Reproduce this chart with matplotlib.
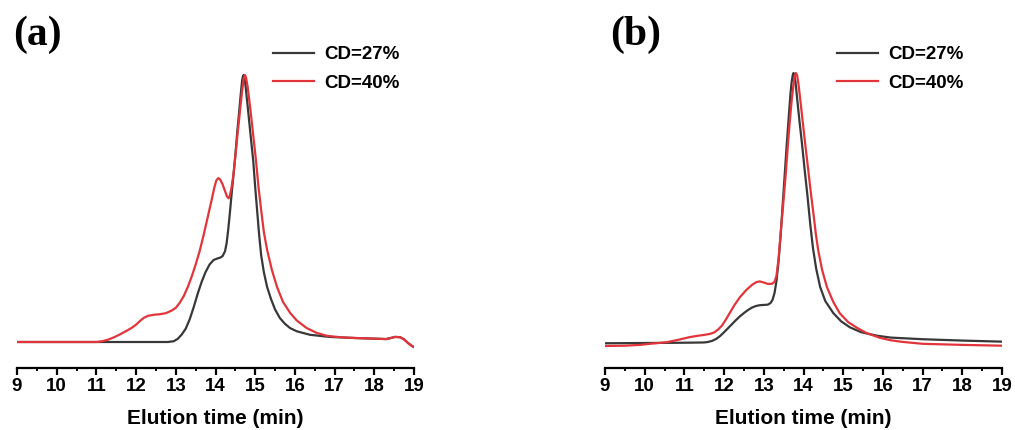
import matplotlib
matplotlib.use("Agg")
import matplotlib.pyplot as plt
from matplotlib.ticker import MultipleLocator

# ---------------- data ----------------
labels = ["CD=27%", "CD=40%"]

# panel (a)
a27_t = [9.0, 12.8, 12.95, 13.05, 13.15, 13.25, 13.35, 13.45, 13.55, 13.65, 13.75, 13.85,
         13.95, 14.05, 14.12, 14.18, 14.24, 14.28, 14.32, 14.36, 14.40, 14.45, 14.50, 14.55,
         14.60, 14.64, 14.67, 14.69, 14.71, 14.73, 14.76, 14.82, 14.88, 14.95, 15.0, 15.05,
         15.10, 15.15, 15.22, 15.30, 15.40, 15.50, 15.62, 15.75, 15.88, 16.05, 16.38, 16.88,
         17.5, 18.3, 18.42, 18.52, 18.65, 18.75, 18.85, 18.95, 19.0]
a27_v = [0.0, 0.0, 0.003, 0.012, 0.028, 0.05, 0.085, 0.13, 0.18, 0.225, 0.262, 0.29,
         0.307, 0.313, 0.316, 0.322, 0.34, 0.37, 0.42, 0.48, 0.545, 0.62, 0.70, 0.79,
         0.869, 0.935, 0.978, 0.995, 1.0, 0.99, 0.955, 0.869, 0.78, 0.68, 0.58, 0.49,
         0.40, 0.325, 0.26, 0.206, 0.16, 0.122, 0.09, 0.068, 0.052, 0.04, 0.027, 0.019,
         0.015, 0.011, 0.015, 0.019, 0.018, 0.01, -0.004, -0.015, -0.019]

a40_t = [9.0, 11.0, 11.15, 11.3, 11.45, 11.6, 11.75, 11.9, 12.0, 12.1, 12.2, 12.3, 12.45,
         12.6, 12.75, 12.9, 13.0, 13.1, 13.2, 13.3, 13.4, 13.5, 13.6, 13.7, 13.8, 13.9,
         13.97, 14.02, 14.07, 14.12, 14.18, 14.24, 14.29, 14.33, 14.36, 14.40, 14.45, 14.50,
         14.56, 14.62, 14.67, 14.71, 14.74, 14.77, 14.81, 14.88, 14.95, 15.02, 15.08, 15.15,
         15.22, 15.30, 15.42, 15.55, 15.70, 15.88, 16.05, 16.30, 16.55, 16.81, 17.2, 17.5,
         18.3, 18.42, 18.52, 18.65, 18.75, 18.85, 18.95, 19.0]
a40_v = [0.0, 0.0, 0.003, 0.009, 0.018, 0.029, 0.041, 0.054, 0.065, 0.079, 0.091, 0.098, 0.102,
         0.104, 0.108, 0.118, 0.128, 0.147, 0.172, 0.205, 0.245, 0.29, 0.34, 0.40, 0.465, 0.53,
         0.578, 0.605, 0.614, 0.608, 0.59, 0.565, 0.545, 0.538, 0.548, 0.575, 0.625, 0.695,
         0.785, 0.87, 0.94, 0.985, 1.0, 0.99, 0.955, 0.87, 0.775, 0.68, 0.585, 0.494,
         0.41, 0.345, 0.27, 0.206, 0.15, 0.109, 0.08, 0.052, 0.034, 0.023, 0.017, 0.015,
         0.011, 0.015, 0.019, 0.018, 0.01, -0.004, -0.015, -0.019]

# panel (b)
b27_t = [9.0, 10.0, 11.0, 11.5, 11.6, 11.7, 11.8, 11.9, 12.0, 12.1, 12.2, 12.3, 12.4, 12.5,
         12.6, 12.7, 12.8, 12.9, 13.0, 13.1, 13.17, 13.22, 13.27, 13.32, 13.37, 13.42, 13.47,
         13.53, 13.58, 13.63, 13.67, 13.70, 13.73, 13.75, 13.77, 13.80, 13.84, 13.90, 13.96,
         14.03, 14.10, 14.17, 14.24, 14.32, 14.42, 14.55, 14.75, 14.95, 15.17, 15.45, 15.85,
         16.2, 17.0, 18.0, 19.0]
b27_v = [-0.001, 0.0, 0.001, 0.002, 0.004, 0.008, 0.015, 0.026, 0.04, 0.055, 0.07, 0.085,
         0.099, 0.111, 0.122, 0.131, 0.137, 0.14, 0.141, 0.142, 0.148, 0.16, 0.185, 0.23,
         0.30, 0.39, 0.50, 0.63, 0.74, 0.84, 0.92, 0.965, 0.993, 1.0, 0.993, 0.965, 0.905,
         0.82, 0.741, 0.64, 0.545, 0.44, 0.35, 0.275, 0.207, 0.155, 0.111, 0.08, 0.058,
         0.04, 0.027, 0.02, 0.014, 0.009, 0.005]

b40_t = [9.0, 9.5, 9.88, 10.2, 10.56, 10.85, 11.14, 11.35, 11.5, 11.65, 11.75, 11.85, 11.95,
         12.05, 12.15, 12.25, 12.4, 12.55, 12.7, 12.82, 12.9, 13.0, 13.1, 13.2, 13.27, 13.32,
         13.37, 13.42, 13.48, 13.55, 13.61, 13.66, 13.71, 13.75, 13.78, 13.81, 13.84, 13.87,
         13.92, 13.98, 14.04, 14.12, 14.19, 14.25, 14.31, 14.37, 14.47, 14.59, 14.75, 14.91,
         15.12, 15.35, 15.6, 15.93, 16.2, 16.5, 17.0, 18.0, 19.0]
b40_v = [-0.011, -0.01, -0.007, -0.002, 0.003, 0.012, 0.022, 0.027, 0.030, 0.034, 0.039, 0.05,
         0.065, 0.088, 0.113, 0.138, 0.17, 0.195, 0.215, 0.226, 0.228, 0.224, 0.219, 0.219,
         0.226, 0.25, 0.31, 0.40, 0.50, 0.62, 0.74, 0.83, 0.91, 0.96, 0.99, 1.0, 0.99, 0.963,
         0.9, 0.82, 0.741, 0.64, 0.55, 0.48, 0.405, 0.344, 0.27, 0.207, 0.152, 0.111,
         0.078, 0.056, 0.036, 0.019, 0.01, 0.004, -0.003, -0.007, -0.010]

xticks = list(range(9, 20))
panel_letters = ["(a)", "(b)"]

# ---------------- figure ----------------
W, H = 1015, 430
fig = plt.figure(figsize=(W / 100, H / 100), dpi=100)

def px_axes(l, r, top, bottom):
    return fig.add_axes([l / W, 1 - bottom / H, (r - l) / W, (bottom - top) / H])

black = "#383838"
red = "#e2353b"
sans = "Liberation Sans"

panels = [
    dict(l=17, r=414, data=[(a27_t, a27_v), (a40_t, a40_v)], base=342, peak=75,
         leg=(273, 46), letter=(37, 35)),
    dict(l=605, r=1002, data=[(b27_t, b27_v), (b40_t, b40_v)], base=343, peak=73,
         leg=(837, 46), letter=(636, 35)),
]

for i, p in enumerate(panels):
    top_px, bot_px = 40, 368
    ax = px_axes(p["l"], p["r"], top_px, bot_px)
    scale = p["base"] - p["peak"]
    ax.set_ylim((p["base"] - bot_px) / scale, (p["base"] - top_px) / scale)
    ax.set_xlim(9, 19)
    (t1, v1), (t2, v2) = p["data"]
    ax.plot(t1, v1, color=black, lw=1.6, label=labels[0], solid_joinstyle="round")
    ax.plot(t2, v2, color=red, lw=1.6, label=labels[1], solid_joinstyle="round")
    for s in ["left", "right", "top"]:
        ax.spines[s].set_visible(False)
    ax.spines["bottom"].set_linewidth(1.6)
    ax.set_yticks([])
    ax.set_xticks(xticks)
    ax.xaxis.set_minor_locator(MultipleLocator(0.5))
    ax.tick_params(axis="x", which="major", direction="out", length=5, width=1.6, pad=2.5,
                   labelsize=13.5)
    ax.tick_params(axis="x", which="minor", direction="out", length=2.5, width=1.4)
    for lab in ax.get_xticklabels():
        lab.set_fontfamily(sans)
        lab.set_fontweight("bold")
    ax.set_xlabel("Elution time (min)", fontfamily=sans, fontweight="bold", fontsize=15,
                  labelpad=10)
    ax.patch.set_alpha(0)
    lx, ly = p["leg"]
    leg = ax.legend(loc="upper left", bbox_to_anchor=(lx / W, 1 - ly / H),
                    bbox_transform=fig.transFigure, frameon=False, borderpad=0,
                    handlelength=2.2, handletextpad=0.55, labelspacing=0.6,
                    borderaxespad=0, prop=dict(family=sans, weight="bold", size=13.5))
    for ln in leg.get_lines():
        ln.set_linewidth(1.6)
    fx, fy = p["letter"]
    fig.text(fx / W, 1 - fy / H, panel_letters[i], ha="center", va="center",
             fontfamily="Liberation Serif", fontweight="bold", fontsize=30)

fig.savefig("out.png", dpi=100)
